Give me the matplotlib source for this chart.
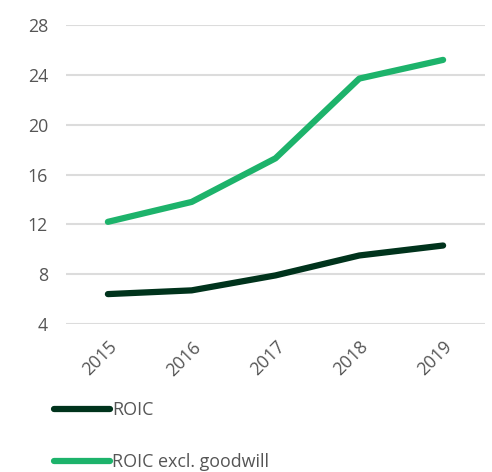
import matplotlib.pyplot as plt
from matplotlib.lines import Line2D

years = ["2015", "2016", "2017", "2018", "2019"]
roic = [6.4, 6.7, 7.9, 9.5, 10.3]
roic_excl_goodwill = [12.2, 13.8, 17.3, 23.7, 25.2]
y_ticks = [4, 8, 12, 16, 20, 24, 28]

dark_green = "#00331c"
light_green = "#1db36b"
text_grey = "#555555"

plt.rcParams['font.family'] = ['Open Sans', 'DejaVu Sans']

fig = plt.figure(figsize=(4.92, 4.72), dpi=100)
ax = fig.add_axes([66 / 492, 1 - 324 / 472, (485 - 66) / 492, (324 - 25) / 472])

x = list(range(len(years)))
ax.plot(x, roic, color=dark_green, lw=4.5, solid_capstyle="round", solid_joinstyle="round", zorder=3)
ax.plot(x, roic_excl_goodwill, color=light_green, lw=4.5, solid_capstyle="round", solid_joinstyle="round", zorder=3)

ax.set_xlim(-0.5, len(years) - 0.5)
ax.set_ylim(4, 28)
ax.set_yticks(y_ticks)
ax.set_xticks(x)
ax.set_xticklabels(years, rotation=45, ha="right", rotation_mode="anchor")
ax.grid(axis="y", color="#dcdcdc", lw=1.5)
ax.set_axisbelow(True)
for s in ax.spines.values():
    s.set_visible(False)
ax.tick_params(axis="y", length=0, pad=13, labelsize=12.8, labelcolor=text_grey)
ax.tick_params(axis="x", length=0, pad=10, labelsize=12.8, labelcolor=text_grey)

handles = [
    Line2D([], [], color=dark_green, lw=4.5, solid_capstyle="round"),
    Line2D([], [], color=light_green, lw=4.5, solid_capstyle="round"),
]
leg = fig.legend(handles, ["ROIC", "ROIC excl. goodwill"], loc="upper left",
                 bbox_to_anchor=(54 / 492, 1 - 401 / 472), frameon=False,
                 fontsize=12.9, handlelength=3.1, handletextpad=0.15,
                 labelspacing=1.92, borderpad=0, borderaxespad=0)
for t in leg.get_texts():
    t.set_color(text_grey)

fig.savefig("out.png", dpi=100)
